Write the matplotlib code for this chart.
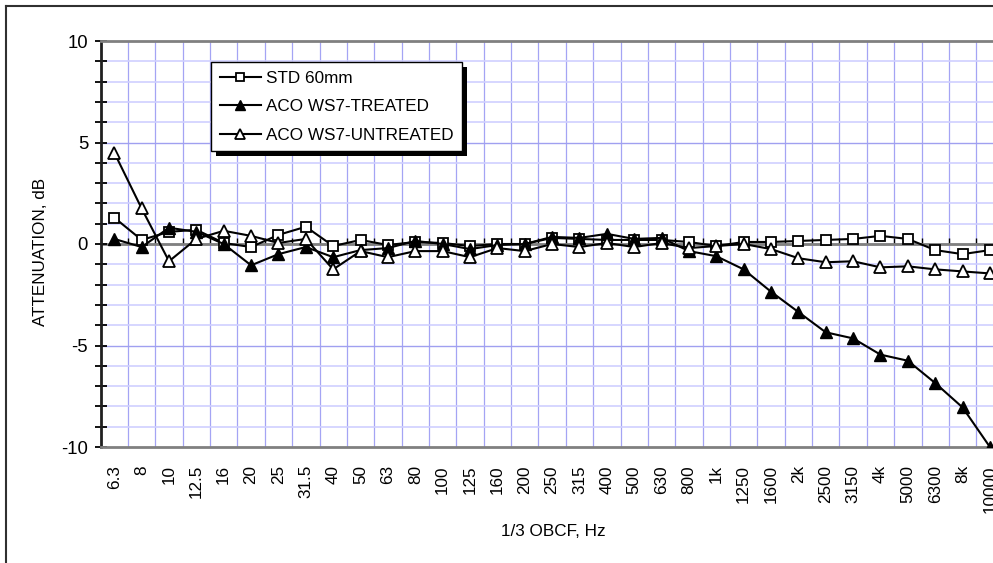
import matplotlib
matplotlib.use("Agg")
import matplotlib.pyplot as plt
from matplotlib import font_manager
from matplotlib.lines import Line2D
from matplotlib.patches import Rectangle
from matplotlib.ticker import FixedLocator, MultipleLocator, NullFormatter

# 1/3 octave band centre frequencies
freq_labels = ["6.3", "8", "10", "12.5", "16", "20", "25", "31.5", "40", "50",
               "63", "80", "100", "125", "160", "200", "250", "315", "400", "500",
               "630", "800", "1k", "1250", "1600", "2k", "2500", "3150", "4k", "5000",
               "6300", "8k", "10000"]

std_60mm = [1.3, 0.2, 0.6, 0.7, 0.05, -0.15, 0.45, 0.85, -0.1, 0.2,
            -0.05, 0.1, 0.05, -0.1, 0.0, 0.0, 0.3, 0.25, 0.2, 0.2,
            0.2, 0.1, -0.1, 0.1, 0.1, 0.15, 0.2, 0.25, 0.4, 0.25,
            -0.3, -0.5, -0.3]
aco_treated = [0.25, -0.15, 0.8, 0.6, 0.0, -1.05, -0.5, -0.15, -0.65, -0.3,
               -0.2, 0.15, 0.0, -0.25, -0.05, 0.0, 0.35, 0.3, 0.5, 0.25,
               0.3, -0.35, -0.6, -1.25, -2.35, -3.35, -4.35, -4.65, -5.45, -5.75,
               -6.85, -8.05, -10.0]
aco_untreated = [4.5, 1.75, -0.85, 0.25, 0.65, 0.4, 0.05, 0.25, -1.25, -0.35,
                 -0.65, -0.35, -0.35, -0.65, -0.2, -0.35, 0.0, -0.15, 0.05, -0.15,
                 0.05, -0.2, -0.1, 0.0, -0.25, -0.7, -0.9, -0.85, -1.15, -1.1,
                 -1.25, -1.35, -1.45]

# smalt typsnitt om det finns, annars vanlig Liberation Sans
namn = {f.name for f in font_manager.fontManager.ttflist}
if "Liberation Sans Narrow" in namn:
    plt.rcParams["font.family"] = ["Liberation Sans Narrow", "DejaVu Sans"]
    fs = 14
else:
    plt.rcParams["font.family"] = ["Liberation Sans", "DejaVu Sans"]
    fs = 12.3
plt.rcParams["axes.unicode_minus"] = False

W, H = 993, 563
fig = plt.figure(figsize=(W / 100, H / 100), dpi=100)
ax = fig.add_axes([100.6 / W, 116 / H, 903 / W, 406 / H])

x = list(range(len(freq_labels)))
ax.plot(x, std_60mm, color="black", lw=1.5, marker="s", ms=7.5, mfc="white",
        mec="black", mew=1.3, label="STD 60mm", zorder=3)
ax.plot(x, aco_treated, color="black", lw=1.5, marker="^", ms=8.5, mfc="black",
        mec="black", mew=1.0, label="ACO WS7-TREATED", zorder=3)
ax.plot(x, aco_untreated, color="black", lw=1.5, marker="^", ms=8.5, mfc="white",
        mec="black", mew=1.3, label="ACO WS7-UNTREATED", zorder=3)

ax.set_xlim(-0.5, len(freq_labels) - 0.5)
ax.set_ylim(-10, 10)

# rutnät
for b in range(len(freq_labels)):
    ax.axvline(b + 0.5, color="#a4a4f4", lw=0.9, zorder=0)
for yv in range(-9, 10):
    if yv % 5 == 0:
        ax.axhline(yv, color="#a0a0f0", lw=1.0, zorder=0)
    else:
        ax.axhline(yv, color="#cfcfff", lw=1.2, zorder=0)
ax.axhline(0, color="#808080", lw=2.0, zorder=1)

# x-axel etiketter längst ner
ax.set_xticks(x)
ax.set_xticklabels(freq_labels, rotation=90, fontsize=fs)
ax.tick_params(axis="x", length=0, pad=13)

# små streck på nollinjen
sec = ax.secondary_xaxis(0.5)
sec.xaxis.set_major_locator(FixedLocator([b + 0.5 for b in range(-1, len(freq_labels))]))
sec.xaxis.set_major_formatter(NullFormatter())
sec.tick_params(axis="x", direction="out", length=4, width=1, color="black",
                labelbottom=False)
sec.spines["bottom"].set_visible(False)

ax.yaxis.set_major_locator(MultipleLocator(5))
ax.yaxis.set_minor_locator(MultipleLocator(1))
ax.tick_params(axis="y", which="both", direction="inout", length=8, width=1.3,
               labelsize=fs + 1, pad=5)

for s in ["top", "bottom"]:
    ax.spines[s].set_color("#808080")
    ax.spines[s].set_linewidth(2)
ax.spines["left"].set_color("#202020")
ax.spines["left"].set_linewidth(2)
ax.spines["right"].set_visible(False)

fig.text(41 / W, 1 - 252 / H, "ATTENUATION, dB", rotation=90, ha="center",
         va="center", fontsize=fs)
fig.text(553 / W, 1 - 531 / H, "1/3 OBCF, Hz", ha="center", va="center",
         fontsize=fs)

leg = ax.legend(loc="upper left", bbox_to_anchor=(211 / W, 1 - 62 / H),
                bbox_transform=fig.transFigure, borderaxespad=0, fancybox=False,
                framealpha=1, edgecolor="black", fontsize=fs, handlelength=2.4,
                handletextpad=0.3, labelspacing=0.8, borderpad=0.5,
                markerscale=0.8)
leg.get_frame().set_linewidth(1.0)
leg.set_zorder(6)

# skugga under legenden
fig.canvas.draw()
bb = leg.get_window_extent()
skugga = Rectangle((bb.x0 + 5, bb.y0 - 5), bb.width, bb.height, transform=None,
                   facecolor="black", edgecolor="none", zorder=5.5)
ax.add_artist(skugga)

# yttre ram
fig.add_artist(Line2D([6 / W, 6 / W], [0, 1 - 6 / H], color="#303030", lw=1.5))
fig.add_artist(Line2D([6 / W, 1], [1 - 6 / H, 1 - 6 / H], color="#303030", lw=1.5))

fig.savefig("out.png", dpi=100)
